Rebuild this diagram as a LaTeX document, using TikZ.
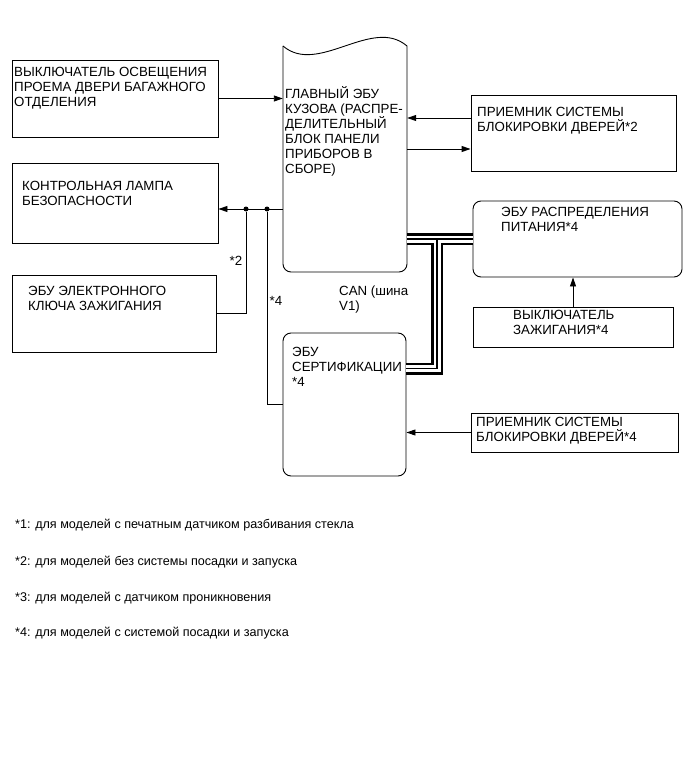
\documentclass[tikz,border=0pt]{standalone}
\usepackage{fontspec}
\setmainfont{Liberation Sans}
\usetikzlibrary{positioning,calc,arrows.meta}

\tikzset{
  blk/.style={draw,rectangle,line width=0.9pt,inner sep=0pt},
  rblk/.style={blk,rounded corners=8pt},
  txt/.style={anchor=north west,align=left,inner sep=0pt,execute at begin node=\strut},
  wire/.style={line width=0.9pt},
  arr/.style={wire,-{Triangle[length=9pt,width=6pt]}},
  jdot/.style={circle,fill,inner sep=0pt,minimum size=5pt},
  note/.style={anchor=west,inner sep=0pt,font=\fontsize{12.6}{15}\selectfont}
}

\begin{document}
\begin{tikzpicture}[x=1pt,y=-1pt,font=\fontsize{13.3}{15}\selectfont]
        \useasboundingbox (0,0) rectangle (691,757);

        % boxes
        \node[blk,minimum width=206,minimum height=77] (sw1) at (115,98.5) {};
        \node[blk,minimum width=206,minimum height=80] (lamp) at (115,203) {};
        \node[blk,minimum width=204,minimum height=77] (key) at (114,313.5) {};
        \node[inner sep=0pt,minimum width=124,minimum height=227] (bcm) at (345,158.5) {};
        \node[blk,minimum width=205,minimum height=76] (rx2) at (573.5,133) {};
        \node[rblk,minimum width=209,minimum height=76] (pwr) at (577.5,239) {};
        \node[blk,minimum width=200,minimum height=40] (ig) at (573,327) {};
        \node[blk,minimum width=207,minimum height=39] (rx4) at (574.5,432.5) {};
        \node[rblk,minimum width=123,minimum height=143] (cert) at (344.5,404.5) {};

        \draw[wire] (283,46) .. controls (318,76) and (372,16) .. (407,46);
        \draw[wire,rounded corners=8pt] (283,46) -- (283,272) -- (407,272) -- (407,46);

        % texts
        \node[txt] (sw1t) at (14,67) {ВЫКЛЮЧАТЕЛЬ ОСВЕЩЕНИЯ\\ПРОЕМА ДВЕРИ БАГАЖНОГО\\ОТДЕЛЕНИЯ};
        \node[txt] (lampt) at (22,181) {КОНТРОЛЬНАЯ ЛАМПА\\БЕЗОПАСНОСТИ};
        \node[txt] (keyt) at (28,286) {ЭБУ ЭЛЕКТРОННОГО\\КЛЮЧА ЗАЖИГАНИЯ};
        \node[txt] (bcmt) at (285,86) {ГЛАВНЫЙ ЭБУ\\КУЗОВА (РАСПРЕ-\\ДЕЛИТЕЛЬНЫЙ\\БЛОК ПАНЕЛИ\\ПРИБОРОВ В\\СБОРЕ)};
        \node[txt] (rx2t) at (477,107) {ПРИЕМНИК СИСТЕМЫ\\БЛОКИРОВКИ ДВЕРЕЙ*2};
        \node[txt] (pwrt) at (501,207) {ЭБУ РАСПРЕДЕЛЕНИЯ\\ПИТАНИЯ*4};
        \node[txt] (igt) at (513,310) {ВЫКЛЮЧАТЕЛЬ\\ЗАЖИГАНИЯ*4};
        \node[txt] (rx4t) at (476,417) {ПРИЕМНИК СИСТЕМЫ\\БЛОКИРОВКИ ДВЕРЕЙ*4};
        \node[txt] (certt) at (292,347) {ЭБУ\\СЕРТИФИКАЦИИ\\*4};
        \node[txt] (cant) at (339,286) {CAN (шина\\V1)};
        \node[inner sep=0pt] (s2) at (236,261) {*2};
        \node[inner sep=0pt] (s4) at (276,301) {*4};

        % connectors
        \coordinate (tap) at ($(lamp.east)+(0,6)$);
        \coordinate (r2a) at ($(rx2.west)+(0,-15)$);
        \coordinate (r2b) at ($(rx2.west)+(0,16)$);
        \node[jdot] (j1) at (246,209) {};
        \node[jdot] (j2) at (267,209) {};

        \draw[arr] (sw1.east) -- (sw1.east -| bcm.west);
        \draw[arr] (tap -| bcm.west) -- (tap);
        \draw[wire] (j1) |- (key.east);
        \draw[wire] (j2) |- (cert.west);
        \draw[arr] (r2a) -- (r2a -| bcm.east);
        \draw[arr] (r2b -| bcm.east) -- (r2b);
        \draw[arr] (ig.north) -- (ig.north |- pwr.south);
        \draw[arr] (rx4.west) -- (rx4.west -| cert.east);

        % CAN bus
        \coordinate (can1) at (bcm.east |- pwr.west);
        \coordinate (tee) at (437,239);
        \coordinate (can2) at ($(cert.east)+(0,-36)$);
        \foreach \w/\c in {12pt/black,7pt/white,1.2pt/black} {
            \draw[line width=\w,\c] (can1) -- (pwr.west) (tee) |- (can2);
        }

        % notes
        \foreach \i/\ypos/\txt in {1/525/{для моделей с печатным датчиком разбивания стекла},
                                   2/562/{для моделей без системы посадки и запуска},
                                   3/598/{для моделей с датчиком проникновения},
                                   4/633/{для моделей с системой посадки и запуска}} {
            \node[note] (note\i) at (15,\ypos) {*\i: \txt};
        }
  \end{tikzpicture}
\end{document}
